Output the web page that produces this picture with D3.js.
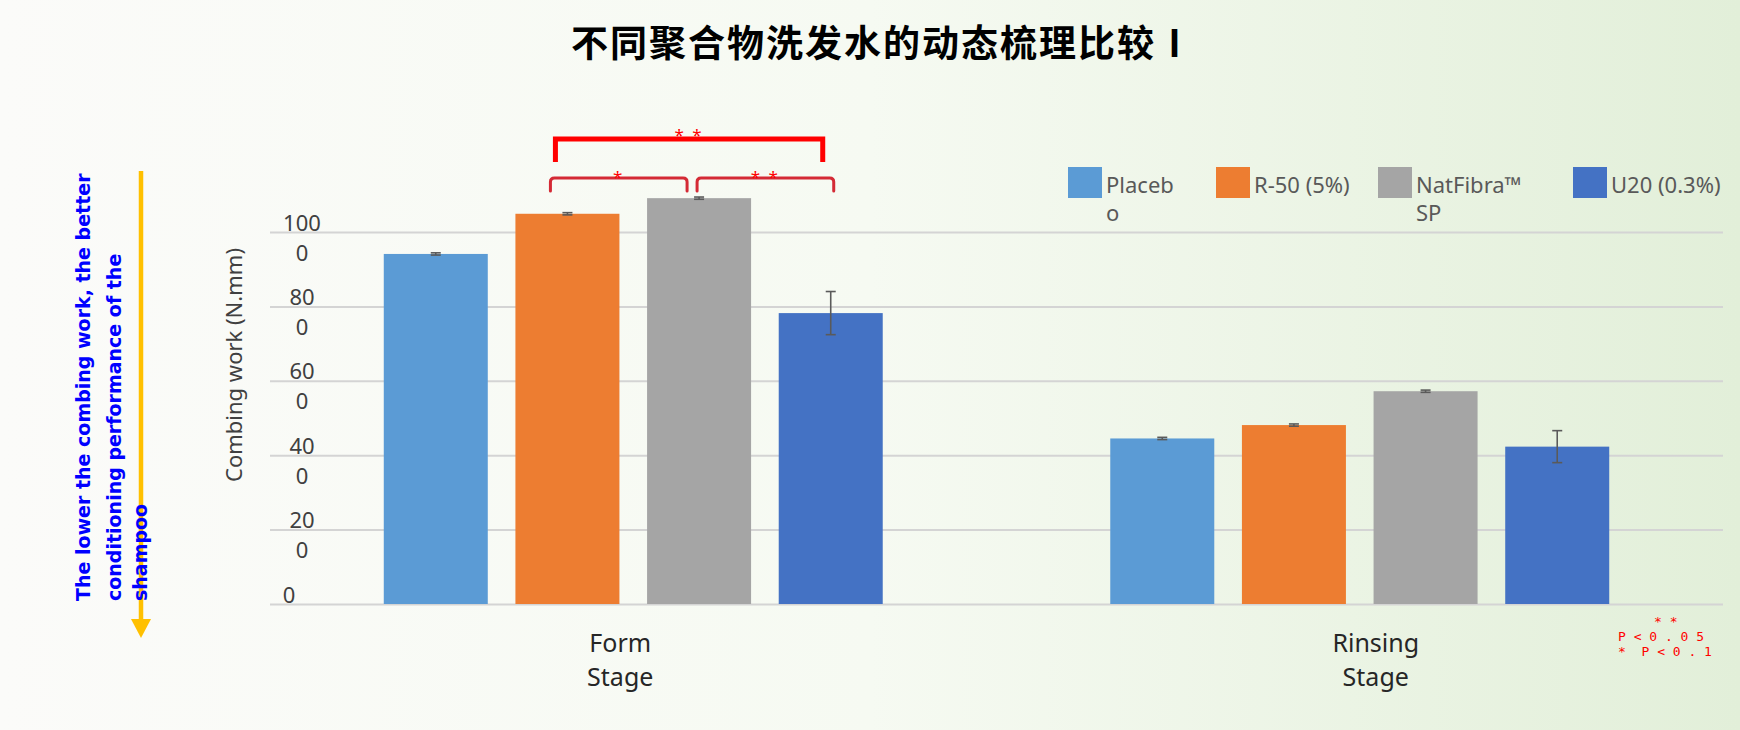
<!DOCTYPE html>
<html>
<head>
<meta charset="utf-8">
<script src="https://cdn.jsdelivr.net/npm/d3@7"></script>
<style>
  body { margin: 0; background: #fff; }
  svg { display: block; font-family: "Noto Sans", "Liberation Sans", sans-serif; }
</style>
</head>
<body>
<div id="chart"></div>
<script>
// values
var stages = ["Form Stage", "Rinsing Stage"];
var stageLines = [["Form", "Stage"], ["Rinsing", "Stage"]];
var seriesNames = ["Placebo", "R-50 (5%)", "NatFibra™ SP", "U20 (0.3%)"];
var seriesColors = ["#5b9bd5", "#ed7d31", "#a5a5a5", "#4472c4"];
var legendLines = [["Placeb", "o"], ["R-50 (5%)"], ["NatFibra™", "SP"], ["U20 (0.3%)"]];
var formValues = [941, 1049, 1091, 782];
var formErrors = [3, 3, 3, 58];
var rinsingValues = [445, 481, 572, 423];
var rinsingErrors = [3, 3, 3, 43];
var yTicks = [0, 200, 400, 600, 800, 1000];
// significance brackets on the form stage (series index from / to)
var brackets = [
  { from: 1, to: 3, label: "* *", big: true },
  { from: 1, to: 2, label: "*", big: false },
  { from: 2, to: 3, label: "* *", big: false }
];
var titleText = "不同聚合物洗发水的动态梳理比较Ⅰ";
var yTitle = "Combing work (N.mm)";
var noteLines = ["The lower the combing work, the better", "conditioning performance of the", "shampoo"];
var pLines = ["* *", "P < 0 . 0 5", "*  P < 0 . 1"];

var rows = stages.map(function(s, i) {
  var vals = i === 0 ? formValues : rinsingValues;
  var errs = i === 0 ? formErrors : rinsingErrors;
  return {
    stage: s,
    bars: seriesNames.map(function(n, j) { return { name: n, value: vals[j], err: errs[j] }; })
  };
});

var svgWidth = 1740, svgHeight = 730;
var plot = { left: 270, right: 1723, top: 232, bottom: 604 };

var svg = d3.select("#chart").append("svg")
  .attr("width", svgWidth)
  .attr("height", svgHeight);

// background: white fading to pale green on the right
var grad = svg.append("defs").append("linearGradient")
  .attr("id", "bg").attr("x1", "0%").attr("x2", "100%").attr("y1", "0%").attr("y2", "0%");
grad.append("stop").attr("offset", "0%").attr("stop-color", "#fbfbf9");
grad.append("stop").attr("offset", "50%").attr("stop-color", "#f6faf2");
grad.append("stop").attr("offset", "100%").attr("stop-color", "#e2efd9");
svg.append("rect").attr("width", svgWidth).attr("height", svgHeight).attr("fill", "url(#bg)");

// scales
var x0 = d3.scaleBand().domain(stages).range([plot.left, plot.right]).padding(0);
var bw = x0.bandwidth();
var x1 = d3.scaleBand().domain(seriesNames).range([bw * 0.1566, bw * 0.8434]).paddingInner(0.21);
var y = d3.scaleLinear().domain([0, 1000]).range([plot.bottom, plot.top]);
var color = d3.scaleOrdinal().domain(seriesNames).range(seriesColors);

// gridlines from the axis
var yAxis = d3.axisLeft(y).tickValues(yTicks).tickSize(-(plot.right - plot.left)).tickFormat("");
var gy = svg.append("g")
  .attr("transform", `translate(${plot.left},0)`)
  .call(yAxis);
gy.select(".domain").remove();
gy.selectAll(".tick line").attr("stroke", "#d4d4d4").attr("stroke-width", 2);

// tick labels wrap like in the original ("100" / "0")
gy.selectAll(".tick").each(function(d) {
  var s = String(d);
  var t = d3.select(this).append("text")
    .attr("fill", "#404040")
    .attr("font-size", 22)
    .attr("text-anchor", "middle")
    .style("font-family", "'Noto Sans', sans-serif");
  if (s.length > 1) {
    t.append("tspan").attr("x", 32).attr("y", -2).text(s.slice(0, -1));
    t.append("tspan").attr("x", 32).attr("y", 28).text(s.slice(-1));
  } else {
    t.append("tspan").attr("x", 19).attr("y", -2).text(s);
  }
});

// bars
var groups = svg.append("g").selectAll("g")
  .data(rows)
  .enter()
  .append("g")
  .attr("transform", d => `translate(${x0(d.stage)},0)`);

groups.selectAll("rect")
  .data(d => d.bars)
  .enter()
  .append("rect")
  .attr("x", d => x1(d.name))
  .attr("y", d => y(d.value))
  .attr("width", x1.bandwidth())
  .attr("height", d => y(0) - y(d.value))
  .attr("fill", d => color(d.name));

// error bars
var eb = groups.selectAll(".err")
  .data(d => d.bars)
  .enter()
  .append("g")
  .attr("class", "err")
  .attr("stroke", "#5a5a5a")
  .attr("stroke-width", 1.6);
eb.append("line")
  .attr("x1", d => x1(d.name) + x1.bandwidth() / 2)
  .attr("x2", d => x1(d.name) + x1.bandwidth() / 2)
  .attr("y1", d => y(d.value + d.err))
  .attr("y2", d => y(d.value - d.err));
eb.selectAll(".cap")
  .data(d => [[d, d.value + d.err], [d, d.value - d.err]])
  .enter()
  .append("line")
  .attr("x1", d => x1(d[0].name) + x1.bandwidth() / 2 - 5)
  .attr("x2", d => x1(d[0].name) + x1.bandwidth() / 2 + 5)
  .attr("y1", d => y(d[1]))
  .attr("y2", d => y(d[1]));

// stage labels
var stageDx = [-13, 16];
stages.forEach(function(s, i) {
  var t = svg.append("text")
    .attr("text-anchor", "middle")
    .attr("font-size", 25)
    .attr("fill", "#262626");
  stageLines[i].forEach(function(line, k) {
    t.append("tspan")
      .attr("x", x0(s) + bw / 2 + stageDx[i])
      .attr("y", 652 + k * 34)
      .text(line);
  });
});

// significance brackets
var cx = function(j) { return x0(stages[0]) + x1(seriesNames[j]) + x1.bandwidth() / 2; };
var bracketDx = [[-12, -8], [-17, -12], [-2, 3]];
brackets.forEach(function(b, i) {
  var xa = cx(b.from) + bracketDx[i][0];
  var xb = cx(b.to) + bracketDx[i][1];
  var path;
  if (b.big) {
    path = `M${xa},162 V139 H${xb} V162`;
    svg.append("path").attr("d", path)
      .attr("fill", "none").attr("stroke", "#ff0000").attr("stroke-width", 5);
  } else {
    path = `M${xa},191 V182 Q${xa},178 ${xa + 4},178 H${xb - 4} Q${xb},178 ${xb},182 V191`;
    svg.append("path").attr("d", path)
      .attr("fill", "none").attr("stroke", "#d42a35").attr("stroke-width", 3)
      .attr("stroke-linecap", "round");
  }
  svg.append("text")
    .attr("x", (xa + xb) / 2)
    .attr("y", b.big ? 141 : 183)
    .attr("text-anchor", "middle")
    .attr("font-size", 17)
    .attr("letter-spacing", 2)
    .attr("fill", "#ff0000")
    .text(b.label);
});

// legend
var legendX = [1068, 1216, 1378, 1573];
seriesNames.forEach(function(n, i) {
  svg.append("rect")
    .attr("x", legendX[i]).attr("y", 167)
    .attr("width", 34).attr("height", 31)
    .attr("fill", color(n));
  var t = svg.append("text").attr("font-size", 22).attr("fill", "#595959");
  legendLines[i].forEach(function(line, k) {
    t.append("tspan").attr("x", legendX[i] + 38).attr("y", 193 + k * 28).text(line);
  });
});

// title
svg.append("text")
  .attr("x", 883).attr("y", 57)
  .attr("text-anchor", "middle")
  .style("font-family", "'Noto Sans CJK SC', sans-serif")
  .attr("font-weight", "bold")
  .attr("font-size", 37)
  .attr("letter-spacing", 2)
  .attr("fill", "#000")
  .text(titleText);

// y axis title
svg.append("text")
  .attr("transform", "translate(242,365) rotate(-90)")
  .attr("text-anchor", "middle")
  .attr("font-size", 22)
  .attr("fill", "#404040")
  .text(yTitle);

// yellow arrow pointing down
svg.append("line")
  .attr("x1", 141).attr("x2", 141).attr("y1", 171).attr("y2", 622)
  .attr("stroke", "#ffc000").attr("stroke-width", 4.5);
svg.append("path")
  .attr("d", "M131,619 L151,619 L141,638 Z")
  .attr("fill", "#ffc000");

// blue note, rotated
var noteX = [90, 121, 147];
noteLines.forEach(function(line, i) {
  svg.append("text")
    .attr("transform", `translate(${noteX[i]},601) rotate(-90)`)
    .style("font-family", "'DejaVu Sans', sans-serif")
    .attr("font-weight", "bold")
    .attr("font-size", 19)
    .attr("fill", "#0000ff")
    .text(line);
});

// p-value footnote
var pX = [1654, 1618, 1618];
var pY = [626, 641, 656];
pLines.forEach(function(line, i) {
  svg.append("text")
    .attr("x", pX[i]).attr("y", pY[i])
    .style("font-family", "'DejaVu Sans Mono', monospace")
    .attr("font-size", 13)
    .attr("fill", "#ff0000")
    .style("white-space", "pre")
    .text(line);
});
</script>
</body>
</html>
